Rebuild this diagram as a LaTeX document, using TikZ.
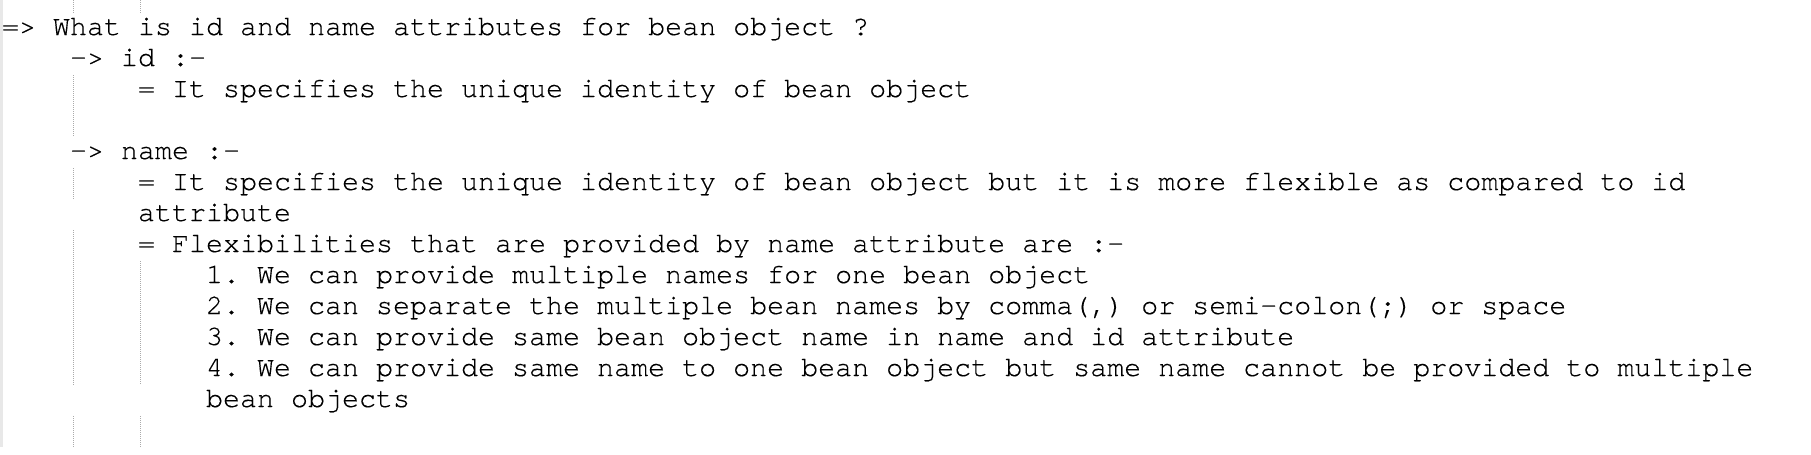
\documentclass[tikz,border=0pt]{standalone}
\usepackage{fontspec}
\newfontfamily\codefont{texgyrecursor-regular.otf}[Ligatures=NoCommon,FakeBold=0.3]
\usepackage{tikz}
\definecolor{guidegray}{RGB}{170,170,170}
\definecolor{margingray}{RGB}{232,232,232}

\begin{document}
\begin{tikzpicture}[x=0.5pt,y=-0.5pt]
\tikzstyle{codeline}=[anchor=base west,inner sep=0pt,outer sep=0pt,font=\codefont\fontsize{14.17pt}{15.5pt}\selectfont\frenchspacing]
\tikzstyle{guide}=[guidegray,line width=0.5pt,dash pattern=on 0.5pt off 0.5pt]
\useasboundingbox (0,0) rectangle (1811,455);
\fill [margingray] (0,0) rectangle (3,447);
% indent guides
\draw [guide] (73,0) -- (73,13);
\draw [guide] (140,0) -- (140,13);
\draw [guide] (73,75) -- (73,137);
\draw [guide] (73,168) -- (73,199);
\draw [guide] (73,230) -- (73,385);
\draw [guide] (140,261) -- (140,385);
\draw [guide] (73,416) -- (73,447);
\draw [guide] (140,416) -- (140,447);
% code lines
\node [codeline] (q) at (2,35) {=> What is id and name attributes for bean object ?};
\node [codeline] (id) at (70,66) {-> id :-};
\node [codeline] (iddef) at (138,97) {= It specifies the unique identity of bean object};
\node [codeline] (name) at (70,159) {-> name :-};
\node [codeline] (namedef) at (138,190) {= It specifies the unique identity of bean object but it is more flexible as compared to id};
\node [codeline] (namedefb) at (138,221) {attribute};
\node [codeline] (flex) at (138,252) {= Flexibilities that are provided by name attribute are :-};
\node [codeline] (flexa) at (206,283) {1. We can provide multiple names for one bean object};
\node [codeline] (flexb) at (206,314) {2. We can separate the multiple bean names by comma(,) or semi-colon(;) or space};
\node [codeline] (flexc) at (206,345) {3. We can provide same bean object name in name and id attribute};
\node [codeline] (flexd) at (206,376) {4. We can provide same name to one bean object but same name cannot be provided to multiple};
\node [codeline] (flexdb) at (206,407) {bean objects};
\end{tikzpicture}
\end{document}
